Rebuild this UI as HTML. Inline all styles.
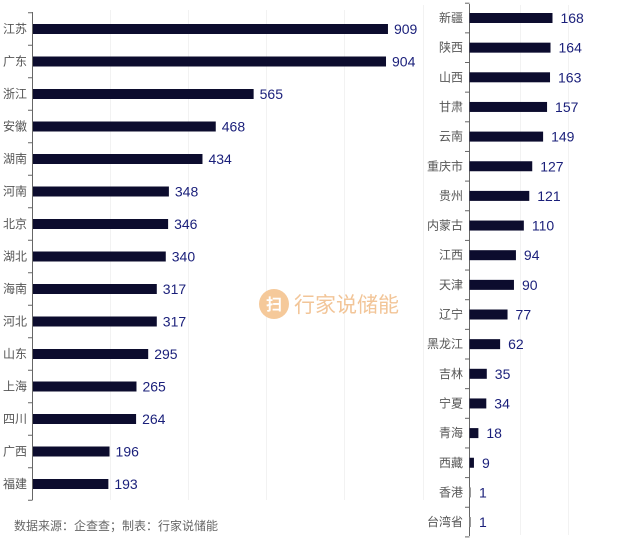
<!DOCTYPE html>
<html><head><meta charset="utf-8"><style>
body{margin:0;background:#fff;width:640px;height:543px;overflow:hidden}
text{font-family:"Liberation Sans","Noto Sans CJK SC",sans-serif}
</style></head><body>
<svg id="s" width="640" height="543" xmlns="http://www.w3.org/2000/svg">
<g stroke="#f2f2f2" stroke-width="1">
<line x1="110.5" y1="10" x2="110.5" y2="500"/><line x1="188.5" y1="10" x2="188.5" y2="500"/><line x1="266.5" y1="10" x2="266.5" y2="500"/><line x1="344.5" y1="10" x2="344.5" y2="500"/>
<line x1="423.5" y1="5" x2="423.5" y2="500"/><line x1="520.5" y1="5" x2="520.5" y2="535"/><line x1="568.5" y1="5" x2="568.5" y2="535"/>
</g>
<g transform="translate(258,304)">
<circle cx="16" cy="0" r="15" fill="#f5c99a"/>
<text x="16" y="6" font-size="16" fill="#fff" text-anchor="middle" font-weight="bold">扫</text>
<text x="36" y="8" font-size="21" fill="#f2c598">行家说储能</text>
</g>
<text x="14" y="530" font-size="12" fill="#666">数据来源：企查查；制表：行家说储能</text>
</svg>
<script>
var s=document.getElementById('s'),ns='http://www.w3.org/2000/svg';
function el(t,a,txt){var e=document.createElementNS(ns,t);for(var k in a)e.setAttribute(k,a[k]);if(txt)e.textContent=txt;s.appendChild(e);}
var L=[["江苏",909],["广东",904],["浙江",565],["安徽",468],["湖南",434],["河南",348],["北京",346],["湖北",340],["海南",317],["河北",317],["山东",295],["上海",265],["四川",264],["广西",196],["福建",193]];
var R=[["新疆",168],["陕西",164],["山西",163],["甘肃",157],["云南",149],["重庆市",127],["贵州",121],["内蒙古",110],["江西",94],["天津",90],["辽宁",77],["黑龙江",62],["吉林",35],["宁夏",34],["青海",18],["西藏",9],["香港",1],["台湾省",1]];
el('line',{x1:32.5,y1:12,x2:32.5,y2:500,stroke:'#666'});
for(var i=0;i<=L.length;i++)el('line',{x1:28,y1:12.75+i*32.5,x2:32.5,y2:12.75+i*32.5,stroke:'#666'});
L.forEach(function(d,i){var y=29+i*32.5,w=d[1]*0.3905;
el('rect',{x:33,y:y-5,width:w,height:10,fill:'#0c0c2e'});
el('text',{x:27,y:y+4,'font-size':12,fill:'#555','text-anchor':'end'},d[0]);
el('text',{x:33+w+6,y:y+5,'font-size':14,fill:'#1a1f7a'},d[1]);});
el('line',{x1:469.5,y1:4,x2:469.5,y2:536,stroke:'#666'});
for(var i=0;i<=R.length;i++)el('line',{x1:465,y1:3.2+i*29.65,x2:469.5,y2:3.2+i*29.65,stroke:'#666'});
R.forEach(function(d,i){var y=18+i*29.65,w=Math.max(d[1]*0.494,1.5);
el('rect',{x:469.5,y:y-5,width:w,height:10,fill:d[1]<2?'#999':'#0c0c2e'});
el('text',{x:463,y:y+4,'font-size':12,fill:'#555','text-anchor':'end'},d[0]);
el('text',{x:469.5+w+8,y:y+5,'font-size':14,fill:'#1a1f7a'},d[1]);});
</script>
</body></html>
